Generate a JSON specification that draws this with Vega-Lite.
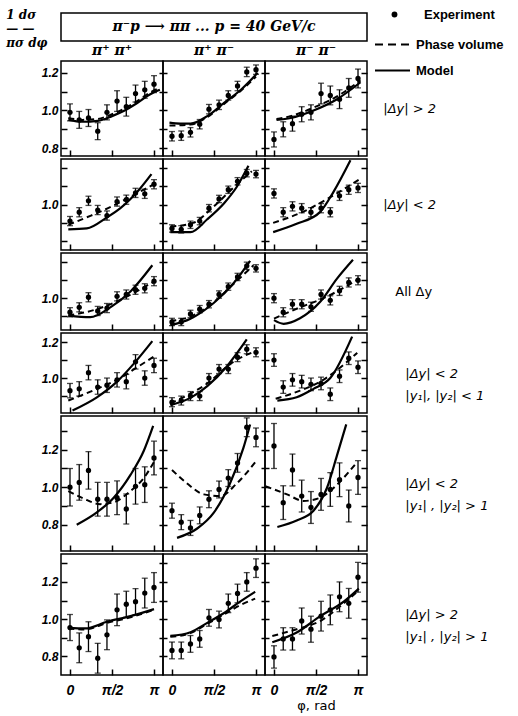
{
"$schema":"https://vega.github.io/schema/vega-lite/v6.json",
"padding":{"top":8,"left":6,"right":4,"bottom":2},
"title":{"text":[" 1   dσ","—   —","πσ  dφ"],"orient":"left","angle":0,"anchor":"end","frame":"group","align":"left","baseline":"top","offset":-11,"dy":-3,"fontSize":12,"fontStyle":"italic","fontWeight":"bold","font":"DejaVu Serif","lineHeight":14,"color":"black"},
"config":{"font":"Liberation Sans","view":{"stroke":"black","strokeWidth":1.5},
 "axis":{"grid":false,"domain":false,"tickColor":"black","tickWidth":1.5,"labelColor":"black","labelFont":"Liberation Sans","labelFontSize":12,"labelFontStyle":"italic","labelFontWeight":"bold","titleColor":"black","labelFlush":false}},
"datasets":{
"pts":[
{"r":1,"c":1,"x":0,"y":0.99,"e":0.045},{"r":1,"c":1,"x":0.11,"y":0.95,"e":0.045},{"r":1,"c":1,"x":0.22,"y":0.96,"e":0.045},{"r":1,"c":1,"x":0.33,"y":0.89,"e":0.045},{"r":1,"c":1,"x":0.44,"y":0.99,"e":0.04},{"r":1,"c":1,"x":0.56,"y":1.05,"e":0.055},{"r":1,"c":1,"x":0.67,"y":1.02,"e":0.05},{"r":1,"c":1,"x":0.78,"y":1.09,"e":0.045},{"r":1,"c":1,"x":0.89,"y":1.11,"e":0.045},{"r":1,"c":1,"x":1,"y":1.14,"e":0.045},
{"r":1,"c":2,"x":0,"y":0.863,"e":0.025},{"r":1,"c":2,"x":0.11,"y":0.866,"e":0.025},{"r":1,"c":2,"x":0.22,"y":0.884,"e":0.025},{"r":1,"c":2,"x":0.33,"y":0.927,"e":0.025},{"r":1,"c":2,"x":0.44,"y":1.007,"e":0.025},{"r":1,"c":2,"x":0.56,"y":1.03,"e":0.025},{"r":1,"c":2,"x":0.67,"y":1.08,"e":0.025},{"r":1,"c":2,"x":0.78,"y":1.13,"e":0.025},{"r":1,"c":2,"x":0.89,"y":1.205,"e":0.025},{"r":1,"c":2,"x":1,"y":1.217,"e":0.025},
{"r":1,"c":3,"x":0,"y":0.846,"e":0.04},{"r":1,"c":3,"x":0.11,"y":0.9,"e":0.04},{"r":1,"c":3,"x":0.22,"y":0.93,"e":0.04},{"r":1,"c":3,"x":0.33,"y":0.98,"e":0.04},{"r":1,"c":3,"x":0.44,"y":0.99,"e":0.04},{"r":1,"c":3,"x":0.56,"y":1.09,"e":0.055},{"r":1,"c":3,"x":0.67,"y":1.08,"e":0.05},{"r":1,"c":3,"x":0.78,"y":1.06,"e":0.05},{"r":1,"c":3,"x":0.89,"y":1.12,"e":0.05},{"r":1,"c":3,"x":1,"y":1.17,"e":0.05},
{"r":2,"c":1,"x":0,"y":0.91,"e":0.025},{"r":2,"c":1,"x":0.11,"y":0.958,"e":0.025},{"r":2,"c":1,"x":0.22,"y":1.02,"e":0.025},{"r":2,"c":1,"x":0.33,"y":0.97,"e":0.025},{"r":2,"c":1,"x":0.44,"y":0.94,"e":0.025},{"r":2,"c":1,"x":0.56,"y":1.016,"e":0.025},{"r":2,"c":1,"x":0.67,"y":1.026,"e":0.025},{"r":2,"c":1,"x":0.78,"y":1.063,"e":0.025},{"r":2,"c":1,"x":0.89,"y":1.058,"e":0.025},{"r":2,"c":1,"x":1,"y":1.11,"e":0.025},
{"r":2,"c":2,"x":0,"y":0.87,"e":0.02},{"r":2,"c":2,"x":0.11,"y":0.865,"e":0.02},{"r":2,"c":2,"x":0.22,"y":0.89,"e":0.02},{"r":2,"c":2,"x":0.33,"y":0.91,"e":0.02},{"r":2,"c":2,"x":0.44,"y":0.98,"e":0.02},{"r":2,"c":2,"x":0.56,"y":1.03,"e":0.02},{"r":2,"c":2,"x":0.67,"y":1.08,"e":0.02},{"r":2,"c":2,"x":0.78,"y":1.126,"e":0.02},{"r":2,"c":2,"x":0.89,"y":1.17,"e":0.02},{"r":2,"c":2,"x":1,"y":1.165,"e":0.02},
{"r":2,"c":3,"x":0,"y":1.06,"e":0.025},{"r":2,"c":3,"x":0.11,"y":0.958,"e":0.025},{"r":2,"c":3,"x":0.22,"y":0.99,"e":0.025},{"r":2,"c":3,"x":0.33,"y":0.98,"e":0.025},{"r":2,"c":3,"x":0.44,"y":0.958,"e":0.025},{"r":2,"c":3,"x":0.56,"y":0.98,"e":0.025},{"r":2,"c":3,"x":0.67,"y":0.958,"e":0.025},{"r":2,"c":3,"x":0.78,"y":1.047,"e":0.025},{"r":2,"c":3,"x":0.89,"y":1.08,"e":0.025},{"r":2,"c":3,"x":1,"y":1.09,"e":0.025},
{"r":3,"c":1,"x":0,"y":0.923,"e":0.025},{"r":3,"c":1,"x":0.11,"y":0.95,"e":0.025},{"r":3,"c":1,"x":0.22,"y":1.005,"e":0.025},{"r":3,"c":1,"x":0.33,"y":0.93,"e":0.025},{"r":3,"c":1,"x":0.44,"y":0.946,"e":0.025},{"r":3,"c":1,"x":0.56,"y":1.01,"e":0.025},{"r":3,"c":1,"x":0.67,"y":1.02,"e":0.025},{"r":3,"c":1,"x":0.78,"y":1.046,"e":0.025},{"r":3,"c":1,"x":0.89,"y":1.054,"e":0.025},{"r":3,"c":1,"x":1,"y":1.093,"e":0.025},
{"r":3,"c":2,"x":0,"y":0.87,"e":0.02},{"r":3,"c":2,"x":0.11,"y":0.87,"e":0.02},{"r":3,"c":2,"x":0.22,"y":0.914,"e":0.02},{"r":3,"c":2,"x":0.33,"y":0.94,"e":0.02},{"r":3,"c":2,"x":0.44,"y":0.967,"e":0.02},{"r":3,"c":2,"x":0.56,"y":1.02,"e":0.02},{"r":3,"c":2,"x":0.67,"y":1.063,"e":0.02},{"r":3,"c":2,"x":0.78,"y":1.116,"e":0.02},{"r":3,"c":2,"x":0.89,"y":1.177,"e":0.02},{"r":3,"c":2,"x":1,"y":1.163,"e":0.02},
{"r":3,"c":3,"x":0,"y":1.0,"e":0.025},{"r":3,"c":3,"x":0.11,"y":0.923,"e":0.025},{"r":3,"c":3,"x":0.22,"y":0.967,"e":0.025},{"r":3,"c":3,"x":0.33,"y":0.967,"e":0.025},{"r":3,"c":3,"x":0.44,"y":0.953,"e":0.025},{"r":3,"c":3,"x":0.56,"y":1.02,"e":0.025},{"r":3,"c":3,"x":0.67,"y":0.988,"e":0.025},{"r":3,"c":3,"x":0.78,"y":1.04,"e":0.025},{"r":3,"c":3,"x":0.89,"y":1.086,"e":0.025},{"r":3,"c":3,"x":1,"y":1.098,"e":0.025},
{"r":4,"c":1,"x":0,"y":0.93,"e":0.04},{"r":4,"c":1,"x":0.11,"y":0.94,"e":0.04},{"r":4,"c":1,"x":0.22,"y":1.03,"e":0.04},{"r":4,"c":1,"x":0.33,"y":0.95,"e":0.04},{"r":4,"c":1,"x":0.44,"y":0.96,"e":0.04},{"r":4,"c":1,"x":0.56,"y":0.99,"e":0.04},{"r":4,"c":1,"x":0.67,"y":0.98,"e":0.04},{"r":4,"c":1,"x":0.78,"y":1.09,"e":0.04},{"r":4,"c":1,"x":0.89,"y":1.0,"e":0.04},{"r":4,"c":1,"x":1,"y":1.07,"e":0.04},
{"r":4,"c":2,"x":0,"y":0.866,"e":0.025},{"r":4,"c":2,"x":0.11,"y":0.875,"e":0.025},{"r":4,"c":2,"x":0.22,"y":0.9,"e":0.025},{"r":4,"c":2,"x":0.33,"y":0.9,"e":0.025},{"r":4,"c":2,"x":0.44,"y":1.0,"e":0.025},{"r":4,"c":2,"x":0.56,"y":1.05,"e":0.025},{"r":4,"c":2,"x":0.67,"y":1.05,"e":0.025},{"r":4,"c":2,"x":0.78,"y":1.116,"e":0.025},{"r":4,"c":2,"x":0.89,"y":1.16,"e":0.025},{"r":4,"c":2,"x":1,"y":1.143,"e":0.025},
{"r":4,"c":3,"x":0,"y":1.1,"e":0.035},{"r":4,"c":3,"x":0.11,"y":0.95,"e":0.035},{"r":4,"c":3,"x":0.22,"y":0.99,"e":0.035},{"r":4,"c":3,"x":0.33,"y":0.98,"e":0.035},{"r":4,"c":3,"x":0.44,"y":0.965,"e":0.035},{"r":4,"c":3,"x":0.56,"y":0.97,"e":0.035},{"r":4,"c":3,"x":0.67,"y":0.91,"e":0.035},{"r":4,"c":3,"x":0.78,"y":1.01,"e":0.035},{"r":4,"c":3,"x":0.89,"y":1.11,"e":0.035},{"r":4,"c":3,"x":1,"y":1.06,"e":0.035},
{"r":5,"c":1,"x":0,"y":1.0,"e":0.1},{"r":5,"c":1,"x":0.11,"y":1.026,"e":0.095},{"r":5,"c":1,"x":0.22,"y":1.09,"e":0.1},{"r":5,"c":1,"x":0.33,"y":0.936,"e":0.09},{"r":5,"c":1,"x":0.44,"y":0.936,"e":0.09},{"r":5,"c":1,"x":0.56,"y":0.944,"e":0.09},{"r":5,"c":1,"x":0.67,"y":0.884,"e":0.08},{"r":5,"c":1,"x":0.78,"y":1.005,"e":0.095},{"r":5,"c":1,"x":0.89,"y":1.014,"e":0.095},{"r":5,"c":1,"x":1,"y":1.156,"e":0.09},
{"r":5,"c":2,"x":0,"y":0.875,"e":0.04},{"r":5,"c":2,"x":0.11,"y":0.814,"e":0.04},{"r":5,"c":2,"x":0.22,"y":0.783,"e":0.04},{"r":5,"c":2,"x":0.33,"y":0.85,"e":0.045},{"r":5,"c":2,"x":0.44,"y":0.936,"e":0.045},{"r":5,"c":2,"x":0.56,"y":0.988,"e":0.045},{"r":5,"c":2,"x":0.67,"y":1.049,"e":0.045},{"r":5,"c":2,"x":0.78,"y":1.13,"e":0.05},{"r":5,"c":2,"x":0.89,"y":1.32,"e":0.05},{"r":5,"c":2,"x":1,"y":1.266,"e":0.05},
{"r":5,"c":3,"x":0,"y":1.22,"e":0.12},{"r":5,"c":3,"x":0.11,"y":0.918,"e":0.09},{"r":5,"c":3,"x":0.22,"y":1.092,"e":0.085},{"r":5,"c":3,"x":0.33,"y":0.953,"e":0.085},{"r":5,"c":3,"x":0.44,"y":0.892,"e":0.085},{"r":5,"c":3,"x":0.56,"y":0.962,"e":0.085},{"r":5,"c":3,"x":0.67,"y":0.988,"e":0.09},{"r":5,"c":3,"x":0.78,"y":1.04,"e":0.09},{"r":5,"c":3,"x":0.89,"y":0.9,"e":0.085},{"r":5,"c":3,"x":1,"y":1.052,"e":0.09},
{"r":6,"c":1,"x":0,"y":0.955,"e":0.07},{"r":6,"c":1,"x":0.11,"y":0.846,"e":0.08},{"r":6,"c":1,"x":0.22,"y":0.906,"e":0.08},{"r":6,"c":1,"x":0.33,"y":0.79,"e":0.08},{"r":6,"c":1,"x":0.44,"y":0.916,"e":0.08},{"r":6,"c":1,"x":0.56,"y":1.05,"e":0.085},{"r":6,"c":1,"x":0.67,"y":1.08,"e":0.07},{"r":6,"c":1,"x":0.78,"y":1.094,"e":0.07},{"r":6,"c":1,"x":0.89,"y":1.14,"e":0.08},{"r":6,"c":1,"x":1,"y":1.17,"e":0.08},
{"r":6,"c":2,"x":0,"y":0.832,"e":0.045},{"r":6,"c":2,"x":0.11,"y":0.832,"e":0.045},{"r":6,"c":2,"x":0.22,"y":0.867,"e":0.045},{"r":6,"c":2,"x":0.33,"y":0.894,"e":0.045},{"r":6,"c":2,"x":0.44,"y":1.007,"e":0.045},{"r":6,"c":2,"x":0.56,"y":0.998,"e":0.045},{"r":6,"c":2,"x":0.67,"y":1.085,"e":0.05},{"r":6,"c":2,"x":0.78,"y":1.138,"e":0.05},{"r":6,"c":2,"x":0.89,"y":1.2,"e":0.05},{"r":6,"c":2,"x":1,"y":1.274,"e":0.05},
{"r":6,"c":3,"x":0,"y":0.797,"e":0.06},{"r":6,"c":3,"x":0.11,"y":0.894,"e":0.06},{"r":6,"c":3,"x":0.22,"y":0.894,"e":0.06},{"r":6,"c":3,"x":0.33,"y":0.99,"e":0.07},{"r":6,"c":3,"x":0.44,"y":0.946,"e":0.07},{"r":6,"c":3,"x":0.56,"y":1.016,"e":0.08},{"r":6,"c":3,"x":0.67,"y":1.05,"e":0.08},{"r":6,"c":3,"x":0.78,"y":1.12,"e":0.08},{"r":6,"c":3,"x":0.89,"y":1.085,"e":0.08},{"r":6,"c":3,"x":1,"y":1.225,"e":0.08}
],
"cur":[
{"r":1,"c":1,"k":"M","x":-0.02,"y":0.95},{"r":1,"c":1,"k":"M","x":0.15,"y":0.94},{"r":1,"c":1,"k":"M","x":0.33,"y":0.945},{"r":1,"c":1,"k":"M","x":0.5,"y":0.97},{"r":1,"c":1,"k":"M","x":0.65,"y":1.0},{"r":1,"c":1,"k":"M","x":0.8,"y":1.04},{"r":1,"c":1,"k":"M","x":0.95,"y":1.085},{"r":1,"c":1,"k":"M","x":1.07,"y":1.11},
{"r":1,"c":1,"k":"P","x":-0.02,"y":0.96},{"r":1,"c":1,"k":"P","x":0.15,"y":0.95},{"r":1,"c":1,"k":"P","x":0.33,"y":0.955},{"r":1,"c":1,"k":"P","x":0.5,"y":0.98},{"r":1,"c":1,"k":"P","x":0.65,"y":1.01},{"r":1,"c":1,"k":"P","x":0.8,"y":1.05},{"r":1,"c":1,"k":"P","x":0.95,"y":1.095},{"r":1,"c":1,"k":"P","x":1.07,"y":1.12},
{"r":1,"c":2,"k":"M","x":-0.03,"y":0.935},{"r":1,"c":2,"k":"M","x":0.1,"y":0.93},{"r":1,"c":2,"k":"M","x":0.22,"y":0.93},{"r":1,"c":2,"k":"M","x":0.42,"y":0.97},{"r":1,"c":2,"k":"M","x":0.62,"y":1.04},{"r":1,"c":2,"k":"M","x":0.82,"y":1.11},{"r":1,"c":2,"k":"M","x":1.02,"y":1.2},
{"r":1,"c":2,"k":"P","x":-0.03,"y":0.92},{"r":1,"c":2,"k":"P","x":0.22,"y":0.925},{"r":1,"c":2,"k":"P","x":0.42,"y":0.965},{"r":1,"c":2,"k":"P","x":0.62,"y":1.035},{"r":1,"c":2,"k":"P","x":0.82,"y":1.105},{"r":1,"c":2,"k":"P","x":1.0,"y":1.18},
{"r":1,"c":3,"k":"M","x":0.03,"y":0.95},{"r":1,"c":3,"k":"M","x":0.2,"y":0.96},{"r":1,"c":3,"k":"M","x":0.47,"y":1.0},{"r":1,"c":3,"k":"M","x":0.75,"y":1.06},{"r":1,"c":3,"k":"M","x":1.03,"y":1.15},
{"r":1,"c":3,"k":"P","x":0.03,"y":0.955},{"r":1,"c":3,"k":"P","x":0.2,"y":0.97},{"r":1,"c":3,"k":"P","x":0.47,"y":1.015},{"r":1,"c":3,"k":"P","x":0.75,"y":1.075},{"r":1,"c":3,"k":"P","x":1.03,"y":1.16},
{"r":2,"c":1,"k":"M","x":-0.02,"y":0.865},{"r":2,"c":1,"k":"M","x":0.2,"y":0.87},{"r":2,"c":1,"k":"M","x":0.44,"y":0.93},{"r":2,"c":1,"k":"M","x":0.6,"y":0.98},{"r":2,"c":1,"k":"M","x":0.72,"y":1.03},{"r":2,"c":1,"k":"M","x":0.84,"y":1.09},{"r":2,"c":1,"k":"M","x":0.97,"y":1.165},
{"r":2,"c":1,"k":"P","x":-0.02,"y":0.89},{"r":2,"c":1,"k":"P","x":0.25,"y":0.94},{"r":2,"c":1,"k":"P","x":0.5,"y":0.99},{"r":2,"c":1,"k":"P","x":0.75,"y":1.05},{"r":2,"c":1,"k":"P","x":1.0,"y":1.11},
{"r":2,"c":2,"k":"M","x":-0.02,"y":0.85},{"r":2,"c":2,"k":"M","x":0.22,"y":0.85},{"r":2,"c":2,"k":"M","x":0.42,"y":0.92},{"r":2,"c":2,"k":"M","x":0.62,"y":1.007},{"r":2,"c":2,"k":"M","x":0.77,"y":1.095},{"r":2,"c":2,"k":"M","x":0.91,"y":1.21},
{"r":2,"c":2,"k":"P","x":-0.02,"y":0.88},{"r":2,"c":2,"k":"P","x":0.25,"y":0.9},{"r":2,"c":2,"k":"P","x":0.5,"y":0.99},{"r":2,"c":2,"k":"P","x":0.75,"y":1.1},{"r":2,"c":2,"k":"P","x":0.95,"y":1.18},
{"r":2,"c":3,"k":"M","x":-0.01,"y":0.85},{"r":2,"c":3,"k":"M","x":0.27,"y":0.895},{"r":2,"c":3,"k":"M","x":0.55,"y":0.96},{"r":2,"c":3,"k":"M","x":0.71,"y":1.07},{"r":2,"c":3,"k":"M","x":0.91,"y":1.24},
{"r":2,"c":3,"k":"P","x":-0.01,"y":0.9},{"r":2,"c":3,"k":"P","x":0.39,"y":0.97},{"r":2,"c":3,"k":"P","x":0.67,"y":1.04},{"r":2,"c":3,"k":"P","x":1.03,"y":1.14},
{"r":3,"c":1,"k":"M","x":-0.02,"y":0.905},{"r":3,"c":1,"k":"M","x":0.24,"y":0.896},{"r":3,"c":1,"k":"M","x":0.48,"y":0.95},{"r":3,"c":1,"k":"M","x":0.72,"y":1.037},{"r":3,"c":1,"k":"M","x":0.98,"y":1.18},
{"r":3,"c":1,"k":"P","x":-0.02,"y":0.905},{"r":3,"c":1,"k":"P","x":0.32,"y":0.94},{"r":3,"c":1,"k":"P","x":0.64,"y":1.0},{"r":3,"c":1,"k":"P","x":0.92,"y":1.07},{"r":3,"c":1,"k":"P","x":1.0,"y":1.09},
{"r":3,"c":2,"k":"M","x":-0.02,"y":0.853},{"r":3,"c":2,"k":"M","x":0.22,"y":0.888},{"r":3,"c":2,"k":"M","x":0.5,"y":0.975},{"r":3,"c":2,"k":"M","x":0.73,"y":1.08},{"r":3,"c":2,"k":"M","x":0.93,"y":1.204},
{"r":3,"c":2,"k":"P","x":-0.02,"y":0.875},{"r":3,"c":2,"k":"P","x":0.25,"y":0.905},{"r":3,"c":2,"k":"P","x":0.5,"y":0.98},{"r":3,"c":2,"k":"P","x":0.75,"y":1.085},{"r":3,"c":2,"k":"P","x":0.97,"y":1.18},
{"r":3,"c":3,"k":"M","x":0,"y":0.88},{"r":3,"c":3,"k":"M","x":0.115,"y":0.86},{"r":3,"c":3,"k":"M","x":0.31,"y":0.89},{"r":3,"c":3,"k":"M","x":0.55,"y":0.98},{"r":3,"c":3,"k":"M","x":0.75,"y":1.107},{"r":3,"c":3,"k":"M","x":0.94,"y":1.21},
{"r":3,"c":3,"k":"P","x":0,"y":0.888},{"r":3,"c":3,"k":"P","x":0.31,"y":0.95},{"r":3,"c":3,"k":"P","x":0.59,"y":1.0},{"r":3,"c":3,"k":"P","x":0.99,"y":1.1},
{"r":4,"c":1,"k":"M","x":0.03,"y":0.82},{"r":4,"c":1,"k":"M","x":0.32,"y":0.893},{"r":4,"c":1,"k":"M","x":0.56,"y":0.98},{"r":4,"c":1,"k":"M","x":0.76,"y":1.08},{"r":4,"c":1,"k":"M","x":0.98,"y":1.205},
{"r":4,"c":1,"k":"P","x":-0.02,"y":0.875},{"r":4,"c":1,"k":"P","x":0.32,"y":0.94},{"r":4,"c":1,"k":"P","x":0.6,"y":1.0},{"r":4,"c":1,"k":"P","x":0.8,"y":1.06},{"r":4,"c":1,"k":"P","x":1.0,"y":1.12},
{"r":4,"c":2,"k":"M","x":-0.02,"y":0.85},{"r":4,"c":2,"k":"M","x":0.22,"y":0.89},{"r":4,"c":2,"k":"M","x":0.42,"y":0.955},{"r":4,"c":2,"k":"M","x":0.65,"y":1.063},{"r":4,"c":2,"k":"M","x":0.89,"y":1.214},
{"r":4,"c":2,"k":"P","x":-0.02,"y":0.86},{"r":4,"c":2,"k":"P","x":0.42,"y":0.97},{"r":4,"c":2,"k":"P","x":0.73,"y":1.09},{"r":4,"c":2,"k":"P","x":0.97,"y":1.145},
{"r":4,"c":3,"k":"M","x":0.04,"y":0.875},{"r":4,"c":3,"k":"M","x":0.27,"y":0.893},{"r":4,"c":3,"k":"M","x":0.47,"y":0.94},{"r":4,"c":3,"k":"M","x":0.67,"y":1.0},{"r":4,"c":3,"k":"M","x":0.93,"y":1.23},
{"r":4,"c":3,"k":"P","x":0.02,"y":0.885},{"r":4,"c":3,"k":"P","x":0.31,"y":0.93},{"r":4,"c":3,"k":"P","x":0.55,"y":0.98},{"r":4,"c":3,"k":"P","x":0.87,"y":1.09},{"r":4,"c":3,"k":"P","x":0.99,"y":1.14},
{"r":5,"c":1,"k":"M","x":0.08,"y":0.8},{"r":5,"c":1,"k":"M","x":0.32,"y":0.866},{"r":5,"c":1,"k":"M","x":0.52,"y":0.944},{"r":5,"c":1,"k":"M","x":0.72,"y":1.066},{"r":5,"c":1,"k":"M","x":0.88,"y":1.196},{"r":5,"c":1,"k":"M","x":0.99,"y":1.327},
{"r":5,"c":1,"k":"P","x":-0.02,"y":0.98},{"r":5,"c":1,"k":"P","x":0.16,"y":0.94},{"r":5,"c":1,"k":"P","x":0.36,"y":0.91},{"r":5,"c":1,"k":"P","x":0.52,"y":0.92},{"r":5,"c":1,"k":"P","x":0.72,"y":0.98},{"r":5,"c":1,"k":"P","x":0.88,"y":1.05},{"r":5,"c":1,"k":"P","x":1.0,"y":1.135},
{"r":5,"c":2,"k":"M","x":0.06,"y":0.73},{"r":5,"c":2,"k":"M","x":0.3,"y":0.78},{"r":5,"c":2,"k":"M","x":0.5,"y":0.866},{"r":5,"c":2,"k":"M","x":0.69,"y":1.02},{"r":5,"c":2,"k":"M","x":0.85,"y":1.21},{"r":5,"c":2,"k":"M","x":0.93,"y":1.335},
{"r":5,"c":2,"k":"P","x":0,"y":1.092},{"r":5,"c":2,"k":"P","x":0.18,"y":1.02},{"r":5,"c":2,"k":"P","x":0.38,"y":0.962},{"r":5,"c":2,"k":"P","x":0.58,"y":0.953},{"r":5,"c":2,"k":"P","x":0.77,"y":1.02},{"r":5,"c":2,"k":"P","x":1.01,"y":1.144},
{"r":5,"c":3,"k":"M","x":0.04,"y":0.788},{"r":5,"c":3,"k":"M","x":0.27,"y":0.823},{"r":5,"c":3,"k":"M","x":0.47,"y":0.875},{"r":5,"c":3,"k":"M","x":0.63,"y":0.996},{"r":5,"c":3,"k":"M","x":0.75,"y":1.17},{"r":5,"c":3,"k":"M","x":0.86,"y":1.335},
{"r":5,"c":3,"k":"P","x":-0.1,"y":1.005},{"r":5,"c":3,"k":"P","x":0.155,"y":0.962},{"r":5,"c":3,"k":"P","x":0.35,"y":0.927},{"r":5,"c":3,"k":"P","x":0.55,"y":0.944},{"r":5,"c":3,"k":"P","x":0.75,"y":1.014},{"r":5,"c":3,"k":"P","x":0.99,"y":1.135},
{"r":6,"c":1,"k":"M","x":-0.02,"y":0.955},{"r":6,"c":1,"k":"M","x":0.18,"y":0.95},{"r":6,"c":1,"k":"M","x":0.44,"y":0.986},{"r":6,"c":1,"k":"M","x":0.72,"y":1.016},{"r":6,"c":1,"k":"M","x":1.0,"y":1.054},
{"r":6,"c":1,"k":"P","x":-0.02,"y":0.95},{"r":6,"c":1,"k":"P","x":0.18,"y":0.945},{"r":6,"c":1,"k":"P","x":0.44,"y":0.98},{"r":6,"c":1,"k":"P","x":0.72,"y":1.01},{"r":6,"c":1,"k":"P","x":1.0,"y":1.05},
{"r":6,"c":2,"k":"M","x":-0.02,"y":0.91},{"r":6,"c":2,"k":"M","x":0.22,"y":0.93},{"r":6,"c":2,"k":"M","x":0.42,"y":0.98},{"r":6,"c":2,"k":"M","x":0.62,"y":1.033},{"r":6,"c":2,"k":"M","x":0.81,"y":1.094},{"r":6,"c":2,"k":"M","x":0.99,"y":1.147},
{"r":6,"c":2,"k":"P","x":-0.02,"y":0.905},{"r":6,"c":2,"k":"P","x":0.22,"y":0.925},{"r":6,"c":2,"k":"P","x":0.42,"y":0.975},{"r":6,"c":2,"k":"P","x":0.62,"y":1.025},{"r":6,"c":2,"k":"P","x":0.81,"y":1.075},{"r":6,"c":2,"k":"P","x":0.99,"y":1.11},
{"r":6,"c":3,"k":"M","x":-0.02,"y":0.876},{"r":6,"c":3,"k":"M","x":0.27,"y":0.928},{"r":6,"c":3,"k":"M","x":0.55,"y":1.016},{"r":6,"c":3,"k":"M","x":0.83,"y":1.094},{"r":6,"c":3,"k":"M","x":1.01,"y":1.164},
{"r":6,"c":3,"k":"P","x":-0.02,"y":0.91},{"r":6,"c":3,"k":"P","x":0.27,"y":0.946},{"r":6,"c":3,"k":"P","x":0.55,"y":0.99},{"r":6,"c":3,"k":"P","x":0.83,"y":1.085},{"r":6,"c":3,"k":"P","x":1.01,"y":1.155}
]},
"spacing":0,
"vconcat":[
{"width":306,"height":28,
 "layer":[
  {"data":{"values":[{"t":"π⁻p ⟶ ππ ... p = 40 GeV/c"}]},"mark":{"type":"text","fontSize":14,"fontStyle":"italic","fontWeight":"bold","font":"DejaVu Serif","color":"black"},"encoding":{"text":{"field":"t"}}},
  {"data":{"values":[{"k":"Experiment"}]},
   "mark":{"type":"point","filled":true,"color":"black","opacity":0},
   "encoding":{"shape":{"field":"k","type":"nominal","scale":{"domain":["Experiment"],"range":["circle"]},
     "legend":{"orient":"none","legendX":327,"legendY":-5,"title":null,"symbolSize":34,"symbolFillColor":"black","symbolStrokeColor":"black","symbolOpacity":1,"labelFont":"Liberation Sans","labelFontSize":13,"labelFontWeight":"bold","labelColor":"black","labelOffset":23}}}},
  {"data":{"values":[{"k":"Phase volume","a":0,"b":0},{"k":"Model","a":0,"b":0}]},
   "mark":{"type":"line","color":"black","opacity":0},
   "encoding":{"x":{"field":"a","type":"quantitative","axis":null},"y":{"field":"b","type":"quantitative","axis":null},
    "strokeDash":{"field":"k","type":"nominal","scale":{"domain":["Phase volume","Model"],"range":[[8,5],[1,0]]},
     "legend":{"orient":"none","legendX":313,"legendY":13,"title":null,"symbolType":"stroke","symbolSize":1225,"symbolStrokeWidth":2,"symbolStrokeColor":"black","symbolOpacity":1,"labelFont":"Liberation Sans","labelFontSize":13,"labelFontWeight":"bold","labelColor":"black","labelOffset":5,"rowPadding":0}}}}
 ]},
{"hconcat":[
  {"width":102,"height":18,"data":{"values":[{"t":"π⁺ π⁺"}]},"mark":{"type":"text","fontSize":14,"fontStyle":"italic","fontWeight":"bold","font":"DejaVu Serif","color":"black"},"encoding":{"text":{"field":"t"}}},
  {"width":102,"height":18,"data":{"values":[{"t":"π⁺ π⁻"}]},"mark":{"type":"text","fontSize":14,"fontStyle":"italic","fontWeight":"bold","font":"DejaVu Serif","color":"black"},"encoding":{"text":{"field":"t"}}},
  {"width":102,"height":18,"data":{"values":[{"t":"π⁻ π⁻"}]},"mark":{"type":"text","fontSize":14,"fontStyle":"italic","fontWeight":"bold","font":"DejaVu Serif","color":"black"},"encoding":{"text":{"field":"t"}}}
 ],"spacing":0,"bounds":"flush"},
{"hconcat":[
 {"width":102,"height":95,
  "encoding":{"x":{"field":"x","type":"quantitative","scale":{"domain":[-0.107,1.107],"nice":false,"zero":false},"axis":{"values":[0,0.5,1],"labels":false,"title":null,"tickSize":-6}},
   "y":{"field":"y","type":"quantitative","scale":{"domain":[0.758,1.263],"nice":false,"zero":false},"axis":{"values":[0.8,0.9,1.0,1.1,1.2],"labelExpr":"indexof(['0.8','1.0','1.2'],format(datum.value,'.1f'))>=0?format(datum.value,'.1f'):''","title":null,"tickSize":-6,"labelPadding":9}}},
  "layer":[
   {"layer":[
    {"data":{"name":"cur"},"transform":[{"filter":"datum.r==1&&datum.c==1&&datum.k=='M'"}],"mark":{"type":"line","color":"black","strokeWidth":2.2,"interpolate":"monotone","clip":true},"encoding":{}},
    {"data":{"name":"cur"},"transform":[{"filter":"datum.r==1&&datum.c==1&&datum.k=='P'"}],"mark":{"type":"line","color":"black","strokeWidth":2,"strokeDash":[6,4],"interpolate":"monotone","clip":true},"encoding":{}},
    {"data":{"name":"pts"},"transform":[{"filter":"datum.r==1&&datum.c==1"}],"mark":{"type":"errorbar","ticks":{"size":6},"thickness":1.3,"color":"black"},"encoding":{"yError":{"field":"e"}}},
    {"data":{"name":"pts"},"transform":[{"filter":"datum.r==1&&datum.c==1"}],"mark":{"type":"point","filled":true,"color":"black","size":28,"opacity":1}}
   ]},
   {"data":{"name":"pts"},"transform":[{"filter":"datum.r==1&&datum.c==1"}],"mark":{"type":"point","opacity":0},
    "encoding":{"y":{"field":"y","type":"quantitative","scale":{"domain":[0.758,1.263],"nice":false,"zero":false},"axis":{"orient":"right","values":[0.8,0.9,1.0,1.1,1.2],"labels":false,"title":null,"tickSize":-4}}}}
  ],
  "resolve":{"axis":{"y":"independent"}}},
 {"width":102,"height":95,
  "encoding":{"x":{"field":"x","type":"quantitative","scale":{"domain":[-0.107,1.107],"nice":false,"zero":false},"axis":{"values":[0,0.5,1],"labels":false,"title":null,"tickSize":-6}},
   "y":{"field":"y","type":"quantitative","scale":{"domain":[0.758,1.263],"nice":false,"zero":false},"axis":{"values":[0.8,0.9,1.0,1.1,1.2],"labels":false,"title":null,"tickSize":-4}}},
  "layer":[
   {"layer":[
    {"data":{"name":"cur"},"transform":[{"filter":"datum.r==1&&datum.c==2&&datum.k=='M'"}],"mark":{"type":"line","color":"black","strokeWidth":2.2,"interpolate":"monotone","clip":true},"encoding":{}},
    {"data":{"name":"cur"},"transform":[{"filter":"datum.r==1&&datum.c==2&&datum.k=='P'"}],"mark":{"type":"line","color":"black","strokeWidth":2,"strokeDash":[6,4],"interpolate":"monotone","clip":true},"encoding":{}},
    {"data":{"name":"pts"},"transform":[{"filter":"datum.r==1&&datum.c==2"}],"mark":{"type":"errorbar","ticks":{"size":6},"thickness":1.3,"color":"black"},"encoding":{"yError":{"field":"e"}}},
    {"data":{"name":"pts"},"transform":[{"filter":"datum.r==1&&datum.c==2"}],"mark":{"type":"point","filled":true,"color":"black","size":28,"opacity":1}}
   ]},
   {"data":{"name":"pts"},"transform":[{"filter":"datum.r==1&&datum.c==2"}],"mark":{"type":"point","opacity":0},
    "encoding":{"y":{"field":"y","type":"quantitative","scale":{"domain":[0.758,1.263],"nice":false,"zero":false},"axis":{"orient":"right","values":[0.8,0.9,1.0,1.1,1.2],"labels":false,"title":null,"tickSize":-4}}}}
  ],
  "resolve":{"axis":{"y":"independent"}}},
 {"width":102,"height":95,
  "encoding":{"x":{"field":"x","type":"quantitative","scale":{"domain":[-0.107,1.107],"nice":false,"zero":false},"axis":{"values":[0,0.5,1],"labels":false,"title":null,"tickSize":-6}},
   "y":{"field":"y","type":"quantitative","scale":{"domain":[0.758,1.263],"nice":false,"zero":false},"axis":{"values":[0.8,0.9,1.0,1.1,1.2],"labels":false,"title":null,"tickSize":-4}}},
  "layer":[
   {"layer":[
    {"data":{"name":"cur"},"transform":[{"filter":"datum.r==1&&datum.c==3&&datum.k=='M'"}],"mark":{"type":"line","color":"black","strokeWidth":2.2,"interpolate":"monotone","clip":true},"encoding":{}},
    {"data":{"name":"cur"},"transform":[{"filter":"datum.r==1&&datum.c==3&&datum.k=='P'"}],"mark":{"type":"line","color":"black","strokeWidth":2,"strokeDash":[6,4],"interpolate":"monotone","clip":true},"encoding":{}},
    {"data":{"name":"pts"},"transform":[{"filter":"datum.r==1&&datum.c==3"}],"mark":{"type":"errorbar","ticks":{"size":6},"thickness":1.3,"color":"black"},"encoding":{"yError":{"field":"e"}}},
    {"data":{"name":"pts"},"transform":[{"filter":"datum.r==1&&datum.c==3"}],"mark":{"type":"point","filled":true,"color":"black","size":28,"opacity":1}}
   ]},
   {"data":{"name":"pts"},"transform":[{"filter":"datum.r==1&&datum.c==3"}],"mark":{"type":"point","opacity":0},
    "encoding":{"y":{"field":"y","type":"quantitative","scale":{"domain":[0.758,1.263],"nice":false,"zero":false},"axis":{"orient":"right","values":[0.8,0.9,1.0,1.1,1.2],"labels":false,"tickSize":-6,"title":"|Δy| > 2","titleAngle":0,"titleAlign":"left","titleBaseline":"middle","titlePadding":15,"titleFont":"DejaVu Sans","titleFontStyle":"italic","titleFontSize":13,"titleFontWeight":"normal"}}}}
  ],
  "resolve":{"axis":{"y":"independent"}}}
 ],"spacing":0,"bounds":"flush"},
{"hconcat":[
 {"width":102,"height":91,
  "encoding":{"x":{"field":"x","type":"quantitative","scale":{"domain":[-0.107,1.107],"nice":false,"zero":false},"axis":{"values":[0,0.5,1],"labels":false,"title":null,"tickSize":-6}},
   "y":{"field":"y","type":"quantitative","scale":{"domain":[0.753,1.247],"nice":false,"zero":false},"axis":{"values":[0.8,0.9,1.0,1.1,1.2],"labelExpr":"format(datum.value,'.1f')=='1.0'?'1.0':''","title":null,"tickSize":-6,"labelPadding":9}}},
  "layer":[
   {"layer":[
    {"data":{"name":"cur"},"transform":[{"filter":"datum.r==2&&datum.c==1&&datum.k=='M'"}],"mark":{"type":"line","color":"black","strokeWidth":2.2,"interpolate":"monotone","clip":true},"encoding":{}},
    {"data":{"name":"cur"},"transform":[{"filter":"datum.r==2&&datum.c==1&&datum.k=='P'"}],"mark":{"type":"line","color":"black","strokeWidth":2,"strokeDash":[6,4],"interpolate":"monotone","clip":true},"encoding":{}},
    {"data":{"name":"pts"},"transform":[{"filter":"datum.r==2&&datum.c==1"}],"mark":{"type":"errorbar","ticks":{"size":6},"thickness":1.3,"color":"black"},"encoding":{"yError":{"field":"e"}}},
    {"data":{"name":"pts"},"transform":[{"filter":"datum.r==2&&datum.c==1"}],"mark":{"type":"point","filled":true,"color":"black","size":28,"opacity":1}}
   ]},
   {"data":{"name":"pts"},"transform":[{"filter":"datum.r==2&&datum.c==1"}],"mark":{"type":"point","opacity":0},
    "encoding":{"y":{"field":"y","type":"quantitative","scale":{"domain":[0.753,1.247],"nice":false,"zero":false},"axis":{"orient":"right","values":[0.8,0.9,1.0,1.1,1.2],"labels":false,"title":null,"tickSize":-4}}}}
  ],
  "resolve":{"axis":{"y":"independent"}}},
 {"width":102,"height":91,
  "encoding":{"x":{"field":"x","type":"quantitative","scale":{"domain":[-0.107,1.107],"nice":false,"zero":false},"axis":{"values":[0,0.5,1],"labels":false,"title":null,"tickSize":-6}},
   "y":{"field":"y","type":"quantitative","scale":{"domain":[0.753,1.247],"nice":false,"zero":false},"axis":{"values":[0.8,0.9,1.0,1.1,1.2],"labels":false,"title":null,"tickSize":-4}}},
  "layer":[
   {"layer":[
    {"data":{"name":"cur"},"transform":[{"filter":"datum.r==2&&datum.c==2&&datum.k=='M'"}],"mark":{"type":"line","color":"black","strokeWidth":2.2,"interpolate":"monotone","clip":true},"encoding":{}},
    {"data":{"name":"cur"},"transform":[{"filter":"datum.r==2&&datum.c==2&&datum.k=='P'"}],"mark":{"type":"line","color":"black","strokeWidth":2,"strokeDash":[6,4],"interpolate":"monotone","clip":true},"encoding":{}},
    {"data":{"name":"pts"},"transform":[{"filter":"datum.r==2&&datum.c==2"}],"mark":{"type":"errorbar","ticks":{"size":6},"thickness":1.3,"color":"black"},"encoding":{"yError":{"field":"e"}}},
    {"data":{"name":"pts"},"transform":[{"filter":"datum.r==2&&datum.c==2"}],"mark":{"type":"point","filled":true,"color":"black","size":28,"opacity":1}}
   ]},
   {"data":{"name":"pts"},"transform":[{"filter":"datum.r==2&&datum.c==2"}],"mark":{"type":"point","opacity":0},
    "encoding":{"y":{"field":"y","type":"quantitative","scale":{"domain":[0.753,1.247],"nice":false,"zero":false},"axis":{"orient":"right","values":[0.8,0.9,1.0,1.1,1.2],"labels":false,"title":null,"tickSize":-4}}}}
  ],
  "resolve":{"axis":{"y":"independent"}}},
 {"width":102,"height":91,
  "encoding":{"x":{"field":"x","type":"quantitative","scale":{"domain":[-0.107,1.107],"nice":false,"zero":false},"axis":{"values":[0,0.5,1],"labels":false,"title":null,"tickSize":-6}},
   "y":{"field":"y","type":"quantitative","scale":{"domain":[0.753,1.247],"nice":false,"zero":false},"axis":{"values":[0.8,0.9,1.0,1.1,1.2],"labels":false,"title":null,"tickSize":-4}}},
  "layer":[
   {"layer":[
    {"data":{"name":"cur"},"transform":[{"filter":"datum.r==2&&datum.c==3&&datum.k=='M'"}],"mark":{"type":"line","color":"black","strokeWidth":2.2,"interpolate":"monotone","clip":true},"encoding":{}},
    {"data":{"name":"cur"},"transform":[{"filter":"datum.r==2&&datum.c==3&&datum.k=='P'"}],"mark":{"type":"line","color":"black","strokeWidth":2,"strokeDash":[6,4],"interpolate":"monotone","clip":true},"encoding":{}},
    {"data":{"name":"pts"},"transform":[{"filter":"datum.r==2&&datum.c==3"}],"mark":{"type":"errorbar","ticks":{"size":6},"thickness":1.3,"color":"black"},"encoding":{"yError":{"field":"e"}}},
    {"data":{"name":"pts"},"transform":[{"filter":"datum.r==2&&datum.c==3"}],"mark":{"type":"point","filled":true,"color":"black","size":28,"opacity":1}}
   ]},
   {"data":{"name":"pts"},"transform":[{"filter":"datum.r==2&&datum.c==3"}],"mark":{"type":"point","opacity":0},
    "encoding":{"y":{"field":"y","type":"quantitative","scale":{"domain":[0.753,1.247],"nice":false,"zero":false},"axis":{"orient":"right","values":[0.8,0.9,1.0,1.1,1.2],"labels":false,"tickSize":-6,"title":"|Δy| < 2","titleAngle":0,"titleAlign":"left","titleBaseline":"middle","titlePadding":15,"titleFont":"DejaVu Sans","titleFontStyle":"italic","titleFontSize":13,"titleFontWeight":"normal"}}}}
  ],
  "resolve":{"axis":{"y":"independent"}}}
 ],"spacing":0,"bounds":"flush"},
{"hconcat":[
 {"width":102,"height":77,
  "encoding":{"x":{"field":"x","type":"quantitative","scale":{"domain":[-0.107,1.107],"nice":false,"zero":false},"axis":{"values":[0,0.5,1],"labels":false,"title":null,"tickSize":-6}},
   "y":{"field":"y","type":"quantitative","scale":{"domain":[0.826,1.247],"nice":false,"zero":false},"axis":{"values":[0.9,1.0,1.1,1.2],"labelExpr":"format(datum.value,'.1f')=='1.0'?'1.0':''","title":null,"tickSize":-6,"labelPadding":9}}},
  "layer":[
   {"layer":[
    {"data":{"name":"cur"},"transform":[{"filter":"datum.r==3&&datum.c==1&&datum.k=='M'"}],"mark":{"type":"line","color":"black","strokeWidth":2.2,"interpolate":"monotone","clip":true},"encoding":{}},
    {"data":{"name":"cur"},"transform":[{"filter":"datum.r==3&&datum.c==1&&datum.k=='P'"}],"mark":{"type":"line","color":"black","strokeWidth":2,"strokeDash":[6,4],"interpolate":"monotone","clip":true},"encoding":{}},
    {"data":{"name":"pts"},"transform":[{"filter":"datum.r==3&&datum.c==1"}],"mark":{"type":"errorbar","ticks":{"size":6},"thickness":1.3,"color":"black"},"encoding":{"yError":{"field":"e"}}},
    {"data":{"name":"pts"},"transform":[{"filter":"datum.r==3&&datum.c==1"}],"mark":{"type":"point","filled":true,"color":"black","size":28,"opacity":1}}
   ]},
   {"data":{"name":"pts"},"transform":[{"filter":"datum.r==3&&datum.c==1"}],"mark":{"type":"point","opacity":0},
    "encoding":{"y":{"field":"y","type":"quantitative","scale":{"domain":[0.826,1.247],"nice":false,"zero":false},"axis":{"orient":"right","values":[0.9,1.0,1.1,1.2],"labels":false,"title":null,"tickSize":-4}}}}
  ],
  "resolve":{"axis":{"y":"independent"}}},
 {"width":102,"height":77,
  "encoding":{"x":{"field":"x","type":"quantitative","scale":{"domain":[-0.107,1.107],"nice":false,"zero":false},"axis":{"values":[0,0.5,1],"labels":false,"title":null,"tickSize":-6}},
   "y":{"field":"y","type":"quantitative","scale":{"domain":[0.826,1.247],"nice":false,"zero":false},"axis":{"values":[0.9,1.0,1.1,1.2],"labels":false,"title":null,"tickSize":-4}}},
  "layer":[
   {"layer":[
    {"data":{"name":"cur"},"transform":[{"filter":"datum.r==3&&datum.c==2&&datum.k=='M'"}],"mark":{"type":"line","color":"black","strokeWidth":2.2,"interpolate":"monotone","clip":true},"encoding":{}},
    {"data":{"name":"cur"},"transform":[{"filter":"datum.r==3&&datum.c==2&&datum.k=='P'"}],"mark":{"type":"line","color":"black","strokeWidth":2,"strokeDash":[6,4],"interpolate":"monotone","clip":true},"encoding":{}},
    {"data":{"name":"pts"},"transform":[{"filter":"datum.r==3&&datum.c==2"}],"mark":{"type":"errorbar","ticks":{"size":6},"thickness":1.3,"color":"black"},"encoding":{"yError":{"field":"e"}}},
    {"data":{"name":"pts"},"transform":[{"filter":"datum.r==3&&datum.c==2"}],"mark":{"type":"point","filled":true,"color":"black","size":28,"opacity":1}}
   ]},
   {"data":{"name":"pts"},"transform":[{"filter":"datum.r==3&&datum.c==2"}],"mark":{"type":"point","opacity":0},
    "encoding":{"y":{"field":"y","type":"quantitative","scale":{"domain":[0.826,1.247],"nice":false,"zero":false},"axis":{"orient":"right","values":[0.9,1.0,1.1,1.2],"labels":false,"title":null,"tickSize":-4}}}}
  ],
  "resolve":{"axis":{"y":"independent"}}},
 {"width":102,"height":77,
  "encoding":{"x":{"field":"x","type":"quantitative","scale":{"domain":[-0.107,1.107],"nice":false,"zero":false},"axis":{"values":[0,0.5,1],"labels":false,"title":null,"tickSize":-6}},
   "y":{"field":"y","type":"quantitative","scale":{"domain":[0.826,1.247],"nice":false,"zero":false},"axis":{"values":[0.9,1.0,1.1,1.2],"labels":false,"title":null,"tickSize":-4}}},
  "layer":[
   {"layer":[
    {"data":{"name":"cur"},"transform":[{"filter":"datum.r==3&&datum.c==3&&datum.k=='M'"}],"mark":{"type":"line","color":"black","strokeWidth":2.2,"interpolate":"monotone","clip":true},"encoding":{}},
    {"data":{"name":"cur"},"transform":[{"filter":"datum.r==3&&datum.c==3&&datum.k=='P'"}],"mark":{"type":"line","color":"black","strokeWidth":2,"strokeDash":[6,4],"interpolate":"monotone","clip":true},"encoding":{}},
    {"data":{"name":"pts"},"transform":[{"filter":"datum.r==3&&datum.c==3"}],"mark":{"type":"errorbar","ticks":{"size":6},"thickness":1.3,"color":"black"},"encoding":{"yError":{"field":"e"}}},
    {"data":{"name":"pts"},"transform":[{"filter":"datum.r==3&&datum.c==3"}],"mark":{"type":"point","filled":true,"color":"black","size":28,"opacity":1}}
   ]},
   {"data":{"name":"pts"},"transform":[{"filter":"datum.r==3&&datum.c==3"}],"mark":{"type":"point","opacity":0},
    "encoding":{"y":{"field":"y","type":"quantitative","scale":{"domain":[0.826,1.247],"nice":false,"zero":false},"axis":{"orient":"right","values":[0.9,1.0,1.1,1.2],"labels":false,"tickSize":-6,"title":"All  Δy","titleAngle":0,"titleAlign":"left","titleBaseline":"middle","titlePadding":27,"titleFont":"DejaVu Sans","titleFontSize":13,"titleFontWeight":"normal"}}}}
  ],
  "resolve":{"axis":{"y":"independent"}}}
 ],"spacing":0,"bounds":"flush"},
{"hconcat":[
 {"width":102,"height":80,
  "encoding":{"x":{"field":"x","type":"quantitative","scale":{"domain":[-0.107,1.107],"nice":false,"zero":false},"axis":{"values":[0,0.5,1],"labels":false,"title":null,"tickSize":-6}},
   "y":{"field":"y","type":"quantitative","scale":{"domain":[0.806,1.25],"nice":false,"zero":false},"axis":{"values":[0.9,1.0,1.1,1.2],"labelExpr":"indexof(['1.0','1.2'],format(datum.value,'.1f'))>=0?format(datum.value,'.1f'):''","title":null,"tickSize":-6,"labelPadding":9}}},
  "layer":[
   {"layer":[
    {"data":{"name":"cur"},"transform":[{"filter":"datum.r==4&&datum.c==1&&datum.k=='M'"}],"mark":{"type":"line","color":"black","strokeWidth":2.2,"interpolate":"monotone","clip":true},"encoding":{}},
    {"data":{"name":"cur"},"transform":[{"filter":"datum.r==4&&datum.c==1&&datum.k=='P'"}],"mark":{"type":"line","color":"black","strokeWidth":2,"strokeDash":[6,4],"interpolate":"monotone","clip":true},"encoding":{}},
    {"data":{"name":"pts"},"transform":[{"filter":"datum.r==4&&datum.c==1"}],"mark":{"type":"errorbar","ticks":{"size":6},"thickness":1.3,"color":"black"},"encoding":{"yError":{"field":"e"}}},
    {"data":{"name":"pts"},"transform":[{"filter":"datum.r==4&&datum.c==1"}],"mark":{"type":"point","filled":true,"color":"black","size":28,"opacity":1}}
   ]},
   {"data":{"name":"pts"},"transform":[{"filter":"datum.r==4&&datum.c==1"}],"mark":{"type":"point","opacity":0},
    "encoding":{"y":{"field":"y","type":"quantitative","scale":{"domain":[0.806,1.25],"nice":false,"zero":false},"axis":{"orient":"right","values":[0.9,1.0,1.1,1.2],"labels":false,"title":null,"tickSize":-4}}}}
  ],
  "resolve":{"axis":{"y":"independent"}}},
 {"width":102,"height":80,
  "encoding":{"x":{"field":"x","type":"quantitative","scale":{"domain":[-0.107,1.107],"nice":false,"zero":false},"axis":{"values":[0,0.5,1],"labels":false,"title":null,"tickSize":-6}},
   "y":{"field":"y","type":"quantitative","scale":{"domain":[0.806,1.25],"nice":false,"zero":false},"axis":{"values":[0.9,1.0,1.1,1.2],"labels":false,"title":null,"tickSize":-4}}},
  "layer":[
   {"layer":[
    {"data":{"name":"cur"},"transform":[{"filter":"datum.r==4&&datum.c==2&&datum.k=='M'"}],"mark":{"type":"line","color":"black","strokeWidth":2.2,"interpolate":"monotone","clip":true},"encoding":{}},
    {"data":{"name":"cur"},"transform":[{"filter":"datum.r==4&&datum.c==2&&datum.k=='P'"}],"mark":{"type":"line","color":"black","strokeWidth":2,"strokeDash":[6,4],"interpolate":"monotone","clip":true},"encoding":{}},
    {"data":{"name":"pts"},"transform":[{"filter":"datum.r==4&&datum.c==2"}],"mark":{"type":"errorbar","ticks":{"size":6},"thickness":1.3,"color":"black"},"encoding":{"yError":{"field":"e"}}},
    {"data":{"name":"pts"},"transform":[{"filter":"datum.r==4&&datum.c==2"}],"mark":{"type":"point","filled":true,"color":"black","size":28,"opacity":1}}
   ]},
   {"data":{"name":"pts"},"transform":[{"filter":"datum.r==4&&datum.c==2"}],"mark":{"type":"point","opacity":0},
    "encoding":{"y":{"field":"y","type":"quantitative","scale":{"domain":[0.806,1.25],"nice":false,"zero":false},"axis":{"orient":"right","values":[0.9,1.0,1.1,1.2],"labels":false,"title":null,"tickSize":-4}}}}
  ],
  "resolve":{"axis":{"y":"independent"}}},
 {"width":102,"height":80,
  "encoding":{"x":{"field":"x","type":"quantitative","scale":{"domain":[-0.107,1.107],"nice":false,"zero":false},"axis":{"values":[0,0.5,1],"labels":false,"title":null,"tickSize":-6}},
   "y":{"field":"y","type":"quantitative","scale":{"domain":[0.806,1.25],"nice":false,"zero":false},"axis":{"values":[0.9,1.0,1.1,1.2],"labels":false,"title":null,"tickSize":-4}}},
  "layer":[
   {"layer":[
    {"data":{"name":"cur"},"transform":[{"filter":"datum.r==4&&datum.c==3&&datum.k=='M'"}],"mark":{"type":"line","color":"black","strokeWidth":2.2,"interpolate":"monotone","clip":true},"encoding":{}},
    {"data":{"name":"cur"},"transform":[{"filter":"datum.r==4&&datum.c==3&&datum.k=='P'"}],"mark":{"type":"line","color":"black","strokeWidth":2,"strokeDash":[6,4],"interpolate":"monotone","clip":true},"encoding":{}},
    {"data":{"name":"pts"},"transform":[{"filter":"datum.r==4&&datum.c==3"}],"mark":{"type":"errorbar","ticks":{"size":6},"thickness":1.3,"color":"black"},"encoding":{"yError":{"field":"e"}}},
    {"data":{"name":"pts"},"transform":[{"filter":"datum.r==4&&datum.c==3"}],"mark":{"type":"point","filled":true,"color":"black","size":28,"opacity":1}}
   ]},
   {"data":{"name":"pts"},"transform":[{"filter":"datum.r==4&&datum.c==3"}],"mark":{"type":"point","opacity":0},
    "encoding":{"y":{"field":"y","type":"quantitative","scale":{"domain":[0.806,1.25],"nice":false,"zero":false},"axis":{"orient":"right","values":[0.9,1.0,1.1,1.2],"labels":false,"tickSize":-6,"title":["|Δy| < 2","|y₁|, |y₂| < 1"],"titleAngle":0,"titleAlign":"left","titleBaseline":"middle","titlePadding":15,"titleFont":"DejaVu Sans","titleFontStyle":"italic","titleFontSize":13,"titleFontWeight":"normal","titleLineHeight":22}}}}
  ],
  "resolve":{"axis":{"y":"independent"}}}
 ],"spacing":0,"bounds":"flush"},
{"hconcat":[
 {"width":102,"height":135,
  "encoding":{"x":{"field":"x","type":"quantitative","scale":{"domain":[-0.107,1.107],"nice":false,"zero":false},"axis":{"values":[0,0.5,1],"labels":false,"title":null,"tickSize":-6}},
   "y":{"field":"y","type":"quantitative","scale":{"domain":[0.66,1.38],"nice":false,"zero":false},"axis":{"values":[0.8,0.9,1.0,1.1,1.2,1.3],"labelExpr":"indexof(['0.8','1.0','1.2'],format(datum.value,'.1f'))>=0?format(datum.value,'.1f'):''","title":null,"tickSize":-6,"labelPadding":9}}},
  "layer":[
   {"layer":[
    {"data":{"name":"cur"},"transform":[{"filter":"datum.r==5&&datum.c==1&&datum.k=='M'"}],"mark":{"type":"line","color":"black","strokeWidth":2.2,"interpolate":"monotone","clip":true},"encoding":{}},
    {"data":{"name":"cur"},"transform":[{"filter":"datum.r==5&&datum.c==1&&datum.k=='P'"}],"mark":{"type":"line","color":"black","strokeWidth":2,"strokeDash":[6,4],"interpolate":"monotone","clip":true},"encoding":{}},
    {"data":{"name":"pts"},"transform":[{"filter":"datum.r==5&&datum.c==1"}],"mark":{"type":"errorbar","ticks":{"size":6},"thickness":1.3,"color":"black"},"encoding":{"yError":{"field":"e"}}},
    {"data":{"name":"pts"},"transform":[{"filter":"datum.r==5&&datum.c==1"}],"mark":{"type":"point","filled":true,"color":"black","size":28,"opacity":1}}
   ]},
   {"data":{"name":"pts"},"transform":[{"filter":"datum.r==5&&datum.c==1"}],"mark":{"type":"point","opacity":0},
    "encoding":{"y":{"field":"y","type":"quantitative","scale":{"domain":[0.66,1.38],"nice":false,"zero":false},"axis":{"orient":"right","values":[0.8,0.9,1.0,1.1,1.2,1.3],"labels":false,"title":null,"tickSize":-4}}}}
  ],
  "resolve":{"axis":{"y":"independent"}}},
 {"width":102,"height":135,
  "encoding":{"x":{"field":"x","type":"quantitative","scale":{"domain":[-0.107,1.107],"nice":false,"zero":false},"axis":{"values":[0,0.5,1],"labels":false,"title":null,"tickSize":-6}},
   "y":{"field":"y","type":"quantitative","scale":{"domain":[0.66,1.38],"nice":false,"zero":false},"axis":{"values":[0.8,0.9,1.0,1.1,1.2,1.3],"labels":false,"title":null,"tickSize":-4}}},
  "layer":[
   {"layer":[
    {"data":{"name":"cur"},"transform":[{"filter":"datum.r==5&&datum.c==2&&datum.k=='M'"}],"mark":{"type":"line","color":"black","strokeWidth":2.2,"interpolate":"monotone","clip":true},"encoding":{}},
    {"data":{"name":"cur"},"transform":[{"filter":"datum.r==5&&datum.c==2&&datum.k=='P'"}],"mark":{"type":"line","color":"black","strokeWidth":2,"strokeDash":[6,4],"interpolate":"monotone","clip":true},"encoding":{}},
    {"data":{"name":"pts"},"transform":[{"filter":"datum.r==5&&datum.c==2"}],"mark":{"type":"errorbar","ticks":{"size":6},"thickness":1.3,"color":"black"},"encoding":{"yError":{"field":"e"}}},
    {"data":{"name":"pts"},"transform":[{"filter":"datum.r==5&&datum.c==2"}],"mark":{"type":"point","filled":true,"color":"black","size":28,"opacity":1}}
   ]},
   {"data":{"name":"pts"},"transform":[{"filter":"datum.r==5&&datum.c==2"}],"mark":{"type":"point","opacity":0},
    "encoding":{"y":{"field":"y","type":"quantitative","scale":{"domain":[0.66,1.38],"nice":false,"zero":false},"axis":{"orient":"right","values":[0.8,0.9,1.0,1.1,1.2,1.3],"labels":false,"title":null,"tickSize":-4}}}}
  ],
  "resolve":{"axis":{"y":"independent"}}},
 {"width":102,"height":135,
  "encoding":{"x":{"field":"x","type":"quantitative","scale":{"domain":[-0.107,1.107],"nice":false,"zero":false},"axis":{"values":[0,0.5,1],"labels":false,"title":null,"tickSize":-6}},
   "y":{"field":"y","type":"quantitative","scale":{"domain":[0.66,1.38],"nice":false,"zero":false},"axis":{"values":[0.8,0.9,1.0,1.1,1.2,1.3],"labels":false,"title":null,"tickSize":-4}}},
  "layer":[
   {"layer":[
    {"data":{"name":"cur"},"transform":[{"filter":"datum.r==5&&datum.c==3&&datum.k=='M'"}],"mark":{"type":"line","color":"black","strokeWidth":2.2,"interpolate":"monotone","clip":true},"encoding":{}},
    {"data":{"name":"cur"},"transform":[{"filter":"datum.r==5&&datum.c==3&&datum.k=='P'"}],"mark":{"type":"line","color":"black","strokeWidth":2,"strokeDash":[6,4],"interpolate":"monotone","clip":true},"encoding":{}},
    {"data":{"name":"pts"},"transform":[{"filter":"datum.r==5&&datum.c==3"}],"mark":{"type":"errorbar","ticks":{"size":6},"thickness":1.3,"color":"black"},"encoding":{"yError":{"field":"e"}}},
    {"data":{"name":"pts"},"transform":[{"filter":"datum.r==5&&datum.c==3"}],"mark":{"type":"point","filled":true,"color":"black","size":28,"opacity":1}}
   ]},
   {"data":{"name":"pts"},"transform":[{"filter":"datum.r==5&&datum.c==3"}],"mark":{"type":"point","opacity":0},
    "encoding":{"y":{"field":"y","type":"quantitative","scale":{"domain":[0.66,1.38],"nice":false,"zero":false},"axis":{"orient":"right","values":[0.8,0.9,1.0,1.1,1.2,1.3],"labels":false,"tickSize":-6,"title":["|Δy| < 2","|y₁| , |y₂| > 1"],"titleAngle":0,"titleAlign":"left","titleBaseline":"middle","titlePadding":15,"titleFont":"DejaVu Sans","titleFontStyle":"italic","titleFontSize":13,"titleFontWeight":"normal","titleLineHeight":22}}}}
  ],
  "resolve":{"axis":{"y":"independent"}}}
 ],"spacing":0,"bounds":"flush"},
{"hconcat":[
 {"width":102,"height":121,
  "encoding":{"x":{"field":"x","type":"quantitative","scale":{"domain":[-0.107,1.107],"nice":false,"zero":false},"axis":{"values":[0,0.5,1],"labelExpr":"datum.value==0?'0':datum.value==0.5?'π/2':'π'","labelFontSize":14,"labelPadding":14,"title":null,"tickSize":-6}},
   "y":{"field":"y","type":"quantitative","scale":{"domain":[0.7,1.35],"nice":false,"zero":false},"axis":{"values":[0.8,0.9,1.0,1.1,1.2,1.3],"labelExpr":"indexof(['0.8','1.0','1.2'],format(datum.value,'.1f'))>=0?format(datum.value,'.1f'):''","title":null,"tickSize":-6,"labelPadding":9}}},
  "layer":[
   {"layer":[
    {"data":{"name":"cur"},"transform":[{"filter":"datum.r==6&&datum.c==1&&datum.k=='M'"}],"mark":{"type":"line","color":"black","strokeWidth":2.2,"interpolate":"monotone","clip":true},"encoding":{}},
    {"data":{"name":"cur"},"transform":[{"filter":"datum.r==6&&datum.c==1&&datum.k=='P'"}],"mark":{"type":"line","color":"black","strokeWidth":2,"strokeDash":[6,4],"interpolate":"monotone","clip":true},"encoding":{}},
    {"data":{"name":"pts"},"transform":[{"filter":"datum.r==6&&datum.c==1"}],"mark":{"type":"errorbar","ticks":{"size":6},"thickness":1.3,"color":"black"},"encoding":{"yError":{"field":"e"}}},
    {"data":{"name":"pts"},"transform":[{"filter":"datum.r==6&&datum.c==1"}],"mark":{"type":"point","filled":true,"color":"black","size":28,"opacity":1}}
   ]},
   {"data":{"name":"pts"},"transform":[{"filter":"datum.r==6&&datum.c==1"}],"mark":{"type":"point","opacity":0},
    "encoding":{"y":{"field":"y","type":"quantitative","scale":{"domain":[0.7,1.35],"nice":false,"zero":false},"axis":{"orient":"right","values":[0.8,0.9,1.0,1.1,1.2,1.3],"labels":false,"title":null,"tickSize":-4}}}}
  ],
  "resolve":{"axis":{"y":"independent"}}},
 {"width":102,"height":121,
  "encoding":{"x":{"field":"x","type":"quantitative","scale":{"domain":[-0.107,1.107],"nice":false,"zero":false},"axis":{"values":[0,0.5,1],"labelExpr":"datum.value==0?'0':datum.value==0.5?'π/2':'π'","labelFontSize":14,"labelPadding":14,"title":null,"tickSize":-6}},
   "y":{"field":"y","type":"quantitative","scale":{"domain":[0.7,1.35],"nice":false,"zero":false},"axis":{"values":[0.8,0.9,1.0,1.1,1.2,1.3],"labels":false,"title":null,"tickSize":-4}}},
  "layer":[
   {"layer":[
    {"data":{"name":"cur"},"transform":[{"filter":"datum.r==6&&datum.c==2&&datum.k=='M'"}],"mark":{"type":"line","color":"black","strokeWidth":2.2,"interpolate":"monotone","clip":true},"encoding":{}},
    {"data":{"name":"cur"},"transform":[{"filter":"datum.r==6&&datum.c==2&&datum.k=='P'"}],"mark":{"type":"line","color":"black","strokeWidth":2,"strokeDash":[6,4],"interpolate":"monotone","clip":true},"encoding":{}},
    {"data":{"name":"pts"},"transform":[{"filter":"datum.r==6&&datum.c==2"}],"mark":{"type":"errorbar","ticks":{"size":6},"thickness":1.3,"color":"black"},"encoding":{"yError":{"field":"e"}}},
    {"data":{"name":"pts"},"transform":[{"filter":"datum.r==6&&datum.c==2"}],"mark":{"type":"point","filled":true,"color":"black","size":28,"opacity":1}}
   ]},
   {"data":{"name":"pts"},"transform":[{"filter":"datum.r==6&&datum.c==2"}],"mark":{"type":"point","opacity":0},
    "encoding":{"y":{"field":"y","type":"quantitative","scale":{"domain":[0.7,1.35],"nice":false,"zero":false},"axis":{"orient":"right","values":[0.8,0.9,1.0,1.1,1.2,1.3],"labels":false,"title":null,"tickSize":-4}}}}
  ],
  "resolve":{"axis":{"y":"independent"}}},
 {"width":102,"height":121,
  "encoding":{"x":{"field":"x","type":"quantitative","scale":{"domain":[-0.107,1.107],"nice":false,"zero":false},"axis":{"values":[0,0.5,1],"labelExpr":"datum.value==0?'0':datum.value==0.5?'π/2':'π'","labelFontSize":14,"labelPadding":14,"title":"φ, rad","titleFont":"DejaVu Sans","titleFontSize":13,"titleFontWeight":"normal","titlePadding":2,"tickSize":-6}},
   "y":{"field":"y","type":"quantitative","scale":{"domain":[0.7,1.35],"nice":false,"zero":false},"axis":{"values":[0.8,0.9,1.0,1.1,1.2,1.3],"labels":false,"title":null,"tickSize":-4}}},
  "layer":[
   {"layer":[
    {"data":{"name":"cur"},"transform":[{"filter":"datum.r==6&&datum.c==3&&datum.k=='M'"}],"mark":{"type":"line","color":"black","strokeWidth":2.2,"interpolate":"monotone","clip":true},"encoding":{}},
    {"data":{"name":"cur"},"transform":[{"filter":"datum.r==6&&datum.c==3&&datum.k=='P'"}],"mark":{"type":"line","color":"black","strokeWidth":2,"strokeDash":[6,4],"interpolate":"monotone","clip":true},"encoding":{}},
    {"data":{"name":"pts"},"transform":[{"filter":"datum.r==6&&datum.c==3"}],"mark":{"type":"errorbar","ticks":{"size":6},"thickness":1.3,"color":"black"},"encoding":{"yError":{"field":"e"}}},
    {"data":{"name":"pts"},"transform":[{"filter":"datum.r==6&&datum.c==3"}],"mark":{"type":"point","filled":true,"color":"black","size":28,"opacity":1}}
   ]},
   {"data":{"name":"pts"},"transform":[{"filter":"datum.r==6&&datum.c==3"}],"mark":{"type":"point","opacity":0},
    "encoding":{"y":{"field":"y","type":"quantitative","scale":{"domain":[0.7,1.35],"nice":false,"zero":false},"axis":{"orient":"right","values":[0.8,0.9,1.0,1.1,1.2,1.3],"labels":false,"tickSize":-6,"title":["|Δy| > 2","|y₁| , |y₂| > 1"],"titleAngle":0,"titleAlign":"left","titleBaseline":"middle","titlePadding":15,"titleFont":"DejaVu Sans","titleFontStyle":"italic","titleFontSize":13,"titleFontWeight":"normal","titleLineHeight":22}}}}
  ],
  "resolve":{"axis":{"y":"independent"}}}
 ],"spacing":0,"bounds":"flush"}
]
}
